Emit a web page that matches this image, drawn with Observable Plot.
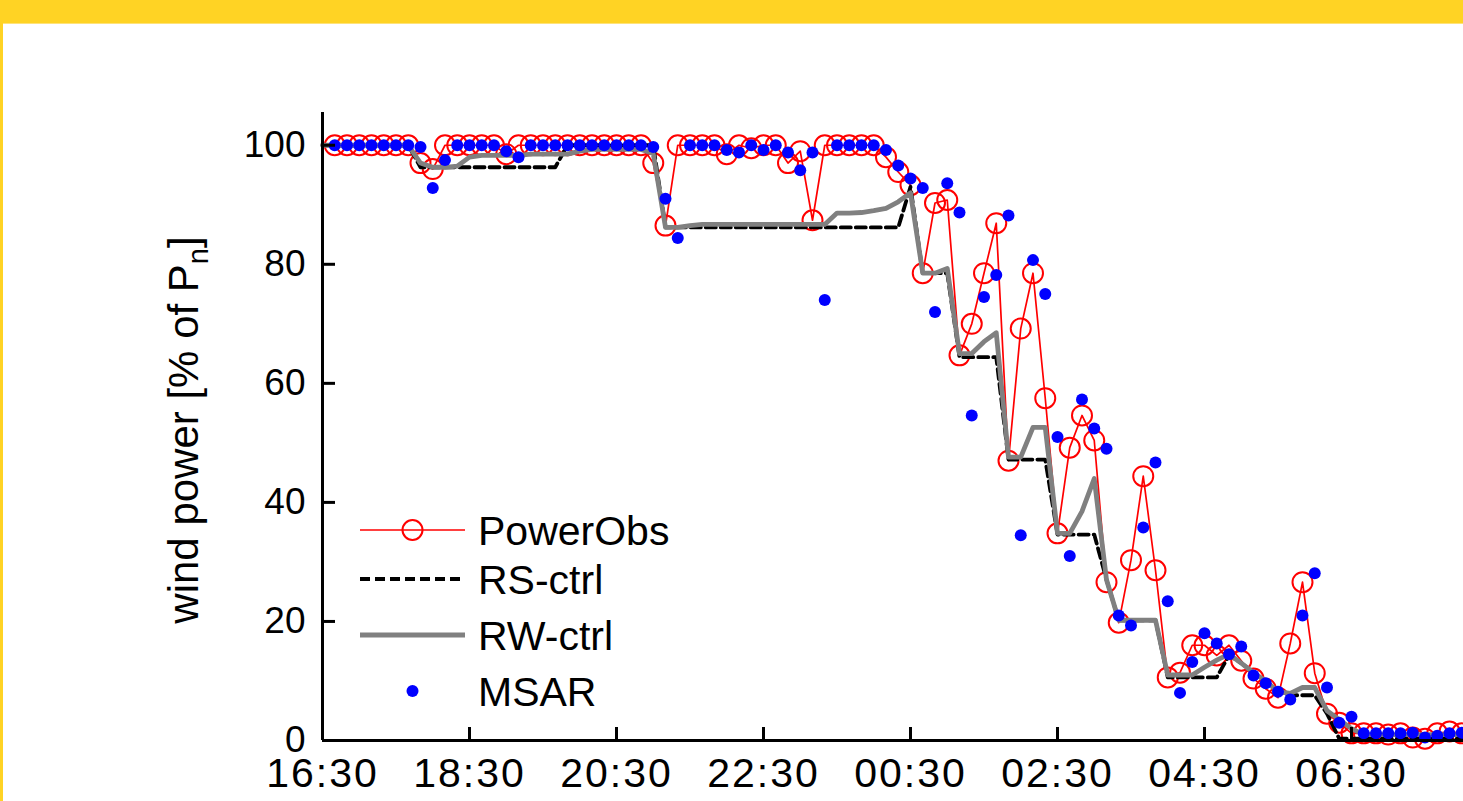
<!DOCTYPE html>
<html><head><meta charset="utf-8">
<script src="https://cdn.jsdelivr.net/npm/d3@7"></script>
<script src="https://cdn.jsdelivr.net/npm/@observablehq/plot@0.6"></script>
<style>
html,body{margin:0;padding:0;background:#fff;overflow:hidden;width:1463px;height:801px;}
#frame{position:absolute;left:0;top:0;width:1463px;height:801px;overflow:hidden;background:#fff;}
#chart{position:absolute;left:0;top:0;width:1520px;height:801px;}
#chart svg{max-width:none !important;}
#topband{position:absolute;left:0;top:0;width:1463px;height:23px;background:#FFD324;border-bottom:1px solid #FFE37A;}
#leftband{position:absolute;left:0;top:0;width:3px;height:801px;background:#FFD324;}
#legend{position:absolute;left:0;top:0;pointer-events:none;}
</style></head><body>
<div id="frame"><div id="chart"></div><svg id="legend" width="1463" height="801"></svg><div id="topband"></div><div id="leftband"></div></div>
<script>
// time grid (10-minute samples)
const times = [
 "16:30","16:40","16:50",
 "17:00","17:10","17:20","17:30","17:40","17:50",
 "18:00","18:10","18:20","18:30","18:40","18:50",
 "19:00","19:10","19:20","19:30","19:40","19:50",
 "20:00","20:10","20:20","20:30","20:40","20:50",
 "21:00","21:10","21:20","21:30","21:40","21:50",
 "22:00","22:10","22:20","22:30","22:40","22:50",
 "23:00","23:10","23:20","23:30","23:40","23:50",
 "00:00","00:10","00:20","00:30","00:40","00:50",
 "01:00","01:10","01:20","01:30","01:40","01:50",
 "02:00","02:10","02:20","02:30","02:40","02:50",
 "03:00","03:10","03:20","03:30","03:40","03:50",
 "04:00","04:10","04:20","04:30","04:40","04:50",
 "05:00","05:10","05:20","05:30","05:40","05:50",
 "06:00","06:10","06:20","06:30","06:40","06:50",
 "07:00","07:10","07:20","07:30","07:40","07:50",
 "08:00"];
const powerObs = [
 null,100,100,
 100,100,100,100,100,97,
 96,100,100,100,100,100,
 98.5,100,100,100,100,100,
 100,100,100,100,100,100,
 97,86.5,100,100,100,100,
 98.5,100,99.5,100,100,97,
 99,87.4,100,100,100,100,
 100,98,95.5,93.3,78.5,90.3,
 90.8,64.7,70,78.5,86.9,47,
 69.2,78.5,57.5,34.8,49.2,54.6,
 50.4,26.6,19.8,30.3,44.4,28.6,
 10.6,11.4,16,16,14.3,16,
 13.4,10.4,8.7,7.2,16.3,26.6,
 11.3,4.5,3,1.2,1.2,1.2,
 1,1.2,0.5,0.3,1.2,1.5,
 1.2];
const rsCtrl = [
 100,100,100,
 100,100,100,100,100,96.3,
 96.3,96.3,96.3,96.3,96.3,96.3,
 96.3,96.3,96.3,96.3,96.3,100,
 100,100,100,100,100,100,
 100,86.2,86.2,86.2,86.2,86.2,
 86.2,86.2,86.2,86.2,86.2,86.2,
 86.2,86.2,86.2,86.2,86.2,86.2,
 86.2,86.2,86.2,93,78.5,78.5,
 78.5,64.4,64.4,64.4,64.4,47.2,
 47.2,47.2,47.2,34.6,34.6,34.6,
 34.6,27,20.2,20.2,20.2,20.2,
 10.6,10.6,10.6,10.6,10.6,14.3,
 13,11.4,10,8.2,7.6,7.6,
 7.6,4.5,0.3,0.3,0.3,0.3,
 0.3,0.3,0.3,0.3,0.3,0.3,
 0.3];
const rwCtrl = [
 100,100,100,
 100,100,100,100,100,97,
 96.3,96.3,96.5,98,98.3,98.3,
 98.3,98.3,98.5,98.5,98.5,98.5,
 99,99.3,99.3,99.3,99.3,99.3,
 98.6,86.2,86.2,86.5,86.7,86.7,
 86.7,86.7,86.7,86.7,86.7,86.7,
 86.7,86.7,86.7,88.6,88.6,88.7,
 89,89.4,90.5,92,78.5,78.5,
 79.3,65,65,67,68.5,47.6,
 47.6,52.6,52.6,34.8,34.8,38.5,
 44,27,20.2,20.2,20.2,20.2,
 11,11,11,12.3,13.5,14.5,
 13,11.4,10,8.2,7.9,8.9,
 8.9,5,3.5,2,1,1,
 1,1,1,1,1,1,
 1];
const msar = [
 null,100,100,
 100,100,100,100,100,99.7,
 92.8,97.5,100,100,100,100,
 99,98,100,100,100,100,
 100,100,100,100,100,100,
 99.7,91,84.4,100,100,100,
 99.2,98.8,100,99.2,100,98.8,
 95.8,98.8,74,100,100,100,
 100,99.2,96.6,94.4,92.8,72,
 93.6,88.7,54.6,74.5,78.2,88.2,
 34.5,80.7,75,51,31,57.3,
 52.4,49,21,19.3,35.8,46.7,
 23.4,8,13.2,18,16.3,14.5,
 15.8,10.9,9.6,8.2,6.9,21,
 28.1,8.9,3,4,1.2,1.2,
 1.2,1.2,1.3,0.5,0.8,1.2,
 1.3];
const xDomainLabels = ["16:30","08:30"];
const xTickLabels = ["16:30","18:30","20:30","22:30","00:30","02:30","04:30","06:30"];
const yTicks = [0,20,40,60,80,100];
const seriesNames = ["PowerObs","RS-ctrl","RW-ctrl","MSAR"];

// convert clock strings to dates (evening = day 1, morning = day 2)
function toDate(s){const [h,m]=s.split(":").map(Number);return new Date(Date.UTC(2000,0,h>=12?1:2,h,m));}
const rows = times.map((t,i)=>({t:toDate(t),obs:powerObs[i],rs:rsCtrl[i],rw:rwCtrl[i],ms:msar[i]}));
const xTicks = xTickLabels.map(toDate);
const xDomain = xDomainLabels.map(toDate);

const font = "'Liberation Sans', Arial, Helvetica, sans-serif";
const dash = "10,5";
const chart = Plot.plot({
  width: 1520, height: 801,
  marginLeft: 322, marginRight: 22, marginTop: 112, marginBottom: 61,
  style: {fontFamily: font, fontSize: "37px", background: "transparent", overflow: "visible", maxWidth: "none"},
  x: {type: "utc", domain: xDomain, label: null},
  y: {domain: [0, 105.5], label: null},
  marks: [
    Plot.line(rows, {x: "t", y: "obs", stroke: "#ff0000", strokeWidth: 1.7}),
    Plot.dot(rows, {x: "t", y: "obs", r: 10, stroke: "#ff0000", strokeWidth: 2, fill: "none"}),
    Plot.line(rows, {x: "t", y: "rs", stroke: "#000", strokeWidth: 3.8, strokeDasharray: dash}),
    Plot.line(rows, {x: "t", y: "rw", stroke: "#808080", strokeWidth: 4.8}),
    Plot.dot(rows, {x: "t", y: "ms", r: 6, fill: "#0000ff", stroke: "none"}),
    Plot.ruleX([xDomain[0]], {stroke: "#000", strokeWidth: 3}),
    Plot.ruleY([0], {stroke: "#000", strokeWidth: 3}),
    Plot.axisY(yTicks, {anchor: "left", tickSize: -13, tickPadding: 30, strokeWidth: 3, fontSize: 37, fill: "#000", tickFormat: d => String(d), label: null}),
    Plot.axisX(xTicks, {anchor: "bottom", tickSize: -13, tickPadding: 30, strokeWidth: 3, fontSize: 41, fill: "#000", tickFormat: d3.utcFormat("%H:%M"), label: null})
  ]
});
chart.style.maxWidth = "none";
document.getElementById("chart").appendChild(chart);

// stretch x tick labels slightly (reference glyphs are wide)
d3.select(chart).selectAll("g[aria-label='x-axis tick label'] text").attr("letter-spacing", 2);

// y-axis title with subscript
const svg = d3.select(chart);
const yl = svg.append("text")
  .attr("transform", "translate(198,430) rotate(-90)")
  .attr("text-anchor", "middle")
  .attr("font-family", font).attr("font-size", 42).attr("fill", "#000");
yl.append("tspan").text("wind power [% of P");
yl.append("tspan").attr("font-size", 29).attr("dy", 10).text("n");
yl.append("tspan").attr("dy", -10).text("]");

// legend
const lg = d3.select("#legend");
const legendY = [530, 579, 635, 691];
const lx1 = 360, lx2 = 465, ltx = 478;
seriesNames.forEach((name, i) => {
  const y = legendY[i];
  if (i === 0) {
    lg.append("line").attr("x1", lx1).attr("x2", lx2).attr("y1", y).attr("y2", y).attr("stroke", "#ff0000").attr("stroke-width", 1.7);
    lg.append("circle").attr("cx", (lx1+lx2)/2).attr("cy", y).attr("r", 10).attr("fill", "none").attr("stroke", "#ff0000").attr("stroke-width", 2);
  } else if (i === 1) {
    lg.append("line").attr("x1", lx1).attr("x2", lx2).attr("y1", y).attr("y2", y).attr("stroke", "#000").attr("stroke-width", 3.8).attr("stroke-dasharray", dash);
  } else if (i === 2) {
    lg.append("line").attr("x1", lx1).attr("x2", lx2).attr("y1", y).attr("y2", y).attr("stroke", "#808080").attr("stroke-width", 4.8);
  } else {
    lg.append("circle").attr("cx", (lx1+lx2)/2).attr("cy", y).attr("r", 6).attr("fill", "#0000ff");
  }
  lg.append("text").attr("x", ltx).attr("y", y).attr("dy", "0.36em")
    .attr("font-family", font).attr("font-size", 41).attr("fill", "#000").text(name);
});
</script>
</body></html>
